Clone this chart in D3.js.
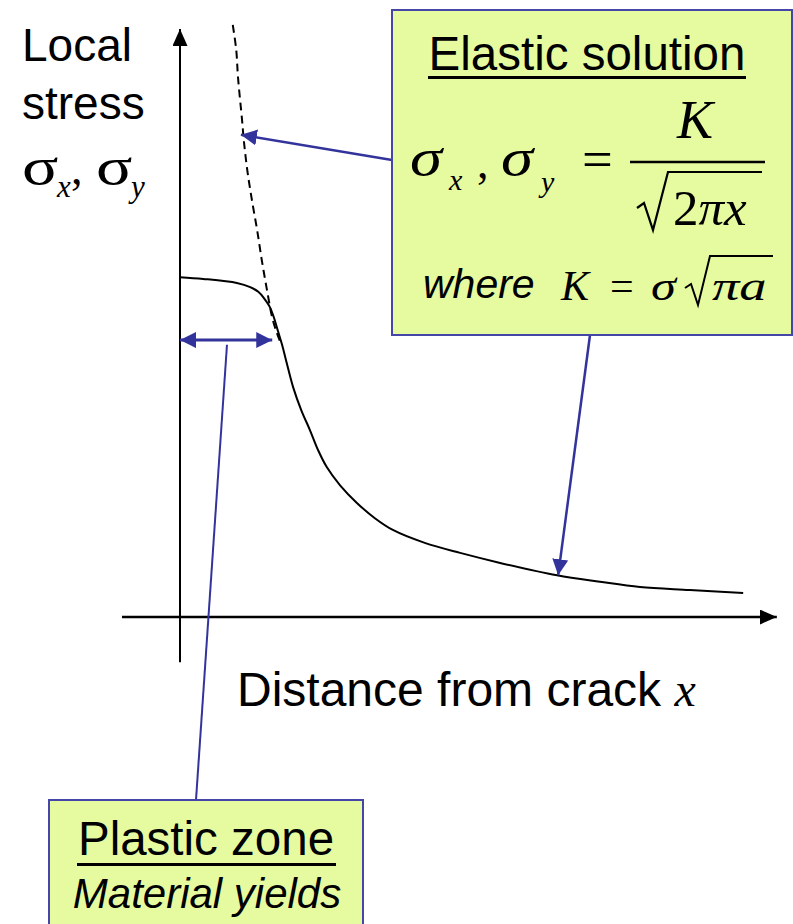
<!DOCTYPE html>
<html>
<head>
<meta charset="utf-8">
<script src="https://cdn.jsdelivr.net/npm/d3@7"></script>
<style>
  body { margin: 0; background: #fff; }
</style>
</head>
<body>
<div id="chart"></div>
<script>
// Stress curve (distance, stress), arbitrary units 0..10
const curveX = [0, 0.40, 0.98, 1.21, 1.35, 1.45, 1.55, 1.62, 1.69, 1.76, 1.84, 1.95, 2.09, 2.24, 2.38, 2.53, 2.76, 3.05, 3.36, 3.67, 4.22, 4.83, 5.52, 6.50, 7.24, 7.93, 8.79, 9.71];
const curveY = [5.78, 5.75, 5.68, 5.61, 5.53, 5.42, 5.27, 5.09, 4.86, 4.63, 4.32, 3.91, 3.52, 3.18, 2.84, 2.55, 2.24, 1.94, 1.68, 1.48, 1.26, 1.09, 0.92, 0.71, 0.60, 0.51, 0.46, 0.41];

// Elastic solution (dashed) above the plastic zone
const elasticX = [0.91, 0.97, 1.00, 1.07, 1.10, 1.16, 1.24, 1.33, 1.41, 1.50, 1.59, 1.66, 1.72];
const elasticY = [10.07, 9.64, 9.18, 8.45, 8.11, 7.60, 7.09, 6.58, 6.07, 5.56, 5.09, 4.86, 4.70];

// Points the callouts aim at (data units)
const elasticTip = [1.05, 8.20];
const farTip = [6.52, 0.71];
const plasticZone = [0, 1.59];      // extent of the plastic zone
const plasticLevel = 4.71;
const plasticPick = [0.81, 4.63];

const fig_width = 793, fig_height = 924;
const blue = '#33339c';
const boxFill = '#e6faa0';

const svg = d3.select('#chart').append('svg')
  .attr('width', fig_width)
  .attr('height', fig_height)
  .style('font-family', 'Liberation Sans, Arial, sans-serif');

const x = d3.scaleLinear().domain([0, 10]).range([180, 760]);
const y = d3.scaleLinear().domain([0, 10]).range([617, 29]);

// arrow heads
const defs = svg.append('defs');
function marker(id, color, len, half, reverse) {
  defs.append('marker')
    .attr('id', id)
    .attr('markerUnits', 'userSpaceOnUse')
    .attr('viewBox', `0 ${-half} ${len} ${half * 2}`)
    .attr('refX', reverse ? 0 : len)
    .attr('refY', 0)
    .attr('markerWidth', len)
    .attr('markerHeight', half * 2)
    .attr('orient', 'auto')
    .append('path')
      .attr('d', reverse ? `M${len},${-half}L0,0L${len},${half}Z` : `M0,${-half}L${len},0L0,${half}Z`)
      .attr('fill', color);
}
marker('axisHead', '#000', 17, 7.5, false);
marker('blueHead', blue, 16, 8, false);
marker('blueTail', blue, 16, 8, true);

// axes (no ticks in this sketch)
svg.append('line')
  .attr('x1', x(0)).attr('x2', x(0))
  .attr('y1', y(-0.77)).attr('y2', y(10))
  .attr('stroke', '#000').attr('stroke-width', 2)
  .attr('marker-end', 'url(#axisHead)');
svg.append('line')
  .attr('x1', x(-1)).attr('x2', x(10.29))
  .attr('y1', y(0)).attr('y2', y(0))
  .attr('stroke', '#000').attr('stroke-width', 2.5)
  .attr('marker-end', 'url(#axisHead)');

// curves
const line = d3.line()
  .x(d => x(d[0]))
  .y(d => y(d[1]))
  .curve(d3.curveCatmullRom.alpha(0.5));

svg.append('path')
  .datum(elasticX.map((d, i) => [d, elasticY[i]]))
  .attr('d', line)
  .attr('fill', 'none')
  .attr('stroke', '#000')
  .attr('stroke-width', 2)
  .attr('stroke-dasharray', '8,5');

svg.append('path')
  .datum(curveX.map((d, i) => [d, curveY[i]]))
  .attr('d', line)
  .attr('fill', 'none')
  .attr('stroke', '#000')
  .attr('stroke-width', 2);

// text helper (sx stretches a glyph sideways where the slide font is wider)
function label(parent, px, py, size, opts) {
  opts = opts || {};
  const t = parent.append('text')
    .attr('transform', `translate(${px},${py}) scale(${opts.sx || 1},1)`)
    .attr('font-size', size)
    .attr('text-anchor', opts.anchor || 'start')
    .attr('fill', '#000');
  if (opts.family) t.attr('font-family', opts.family);
  if (opts.italic) t.attr('font-style', 'italic');
  if (opts.text) t.text(opts.text);
  return t;
}
const serif = 'Liberation Serif, Times New Roman, serif';

// y axis title
label(svg, 22, 61, 46, { text: 'Local' });
label(svg, 22, 119, 46, { text: 'stress' });
label(svg, 22, 184, 52, { text: 'σ', family: serif, sx: 1.3 });
label(svg, 57, 197, 31, { text: 'x', family: serif, italic: true });
label(svg, 71, 184, 46, { text: ',', family: serif });
label(svg, 96, 184, 52, { text: 'σ', family: serif, sx: 1.3 });
label(svg, 131, 197, 31, { text: 'y', family: serif, italic: true });

// x axis title
const xt = label(svg, 237, 706, 48, {});
xt.append('tspan').text('Distance from crack ');
xt.append('tspan').attr('font-family', serif).attr('font-style', 'italic').attr('font-size', 48).text('x');

// callout arrows
const boxA = { x: 392, y: 10, w: 400, h: 325 };
const boxB = { x: 49, y: 800, w: 314, h: 140 };

svg.append('line')
  .attr('x1', boxA.x).attr('y1', 160)
  .attr('x2', x(elasticTip[0])).attr('y2', y(elasticTip[1]))
  .attr('stroke', blue).attr('stroke-width', 2.5)
  .attr('marker-end', 'url(#blueHead)');
svg.append('line')
  .attr('x1', 590).attr('y1', boxA.y + boxA.h)
  .attr('x2', x(farTip[0])).attr('y2', y(farTip[1]))
  .attr('stroke', blue).attr('stroke-width', 2.5)
  .attr('marker-end', 'url(#blueHead)');
svg.append('line')
  .attr('x1', x(plasticZone[0])).attr('x2', x(plasticZone[1]))
  .attr('y1', y(plasticLevel)).attr('y2', y(plasticLevel))
  .attr('stroke', blue).attr('stroke-width', 3)
  .attr('marker-start', 'url(#blueTail)')
  .attr('marker-end', 'url(#blueHead)');
svg.append('line')
  .attr('x1', x(plasticPick[0])).attr('y1', y(plasticPick[1]))
  .attr('x2', 196).attr('y2', boxB.y)
  .attr('stroke', blue).attr('stroke-width', 2);

// elastic solution box
const ga = svg.append('g');
ga.append('rect')
  .attr('x', boxA.x).attr('y', boxA.y)
  .attr('width', boxA.w).attr('height', boxA.h)
  .attr('fill', boxFill).attr('stroke', '#4646a8').attr('stroke-width', 2);
label(ga, 587, 70, 47.5, { text: 'Elastic solution', anchor: 'middle' });
ga.append('rect').attr('x', 428).attr('y', 76).attr('width', 318).attr('height', 3).attr('fill', '#000');

label(ga, 410, 175, 52, { text: 'σ', family: serif, italic: true, sx: 1.25 });
label(ga, 449, 190, 30, { text: 'x', family: serif, italic: true });
label(ga, 477, 178, 46, { text: ',', family: serif });
label(ga, 501, 175, 52, { text: 'σ', family: serif, italic: true, sx: 1.25 });
label(ga, 541, 192, 30, { text: 'y', family: serif, italic: true });
label(ga, 582, 177, 52, { text: '=', family: serif, sx: 1.05 });
ga.append('line').attr('x1', 630).attr('x2', 765).attr('y1', 162).attr('y2', 162)
  .attr('stroke', '#000').attr('stroke-width', 2.5);
label(ga, 677, 138, 54, { text: 'K', family: serif, italic: true });
ga.append('path')
  .attr('d', 'M637,208L644,203L653,230L668,172L762,172')
  .attr('fill', 'none').attr('stroke', '#000').attr('stroke-width', 2.2);
const rad = label(ga, 673, 225, 51, { family: serif });
rad.append('tspan').text('2');
rad.append('tspan').attr('font-style', 'italic').text('πx');

label(ga, 423, 298, 41, { text: 'where', italic: true });
label(ga, 561, 300, 42, { text: 'K', family: serif, italic: true });
label(ga, 610, 300, 42, { text: '=', family: serif });
label(ga, 651, 300, 42, { text: 'σ', family: serif, italic: true, sx: 1.2 });
ga.append('path')
  .attr('d', 'M685,288L691,284L698,305L710,256L773,256')
  .attr('fill', 'none').attr('stroke', '#000').attr('stroke-width', 2);
label(ga, 712, 300, 42, { text: 'πa', family: serif, italic: true, sx: 1.3 });

// plastic zone box
const gb = svg.append('g');
gb.append('rect')
  .attr('x', boxB.x).attr('y', boxB.y)
  .attr('width', boxB.w).attr('height', boxB.h)
  .attr('fill', boxFill).attr('stroke', '#4646a8').attr('stroke-width', 2);
label(gb, 206, 855, 47.5, { text: 'Plastic zone', anchor: 'middle' });
gb.append('rect').attr('x', 77).attr('y', 863).attr('width', 259).attr('height', 3).attr('fill', '#000');
label(gb, 207, 908, 42, { text: 'Material yields', anchor: 'middle', italic: true });
</script>
</body>
</html>
